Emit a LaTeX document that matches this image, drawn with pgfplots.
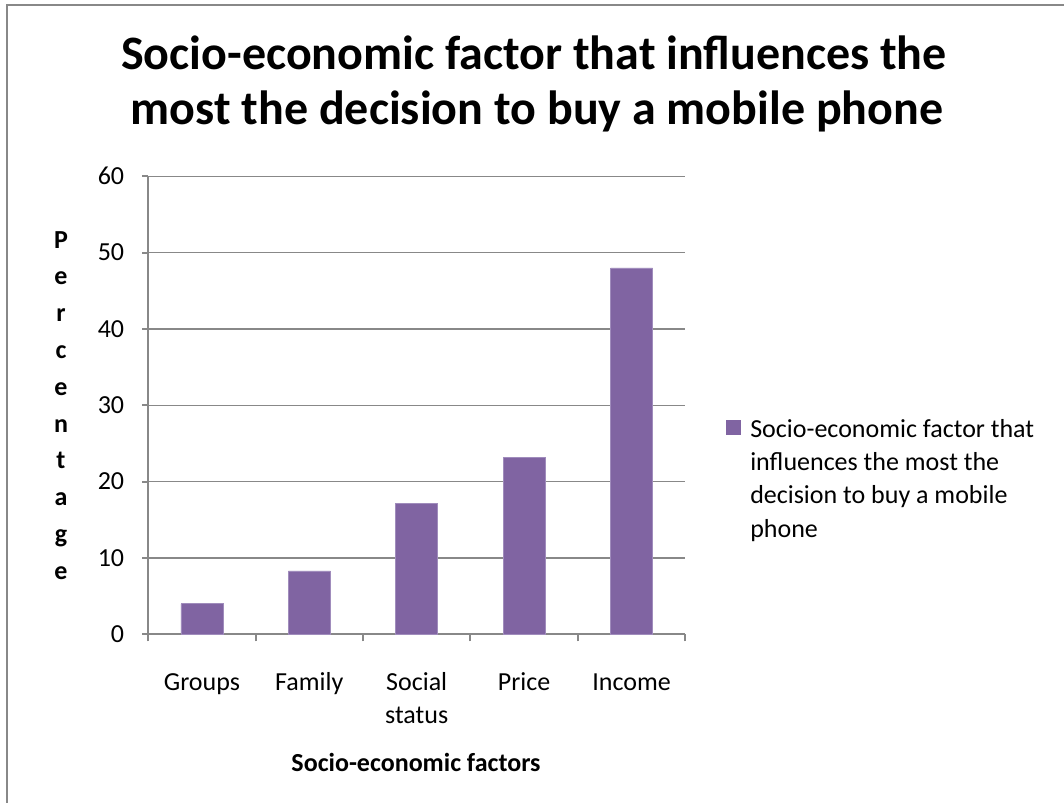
\documentclass[border=0pt]{standalone}
\usepackage{fontspec}
\setmainfont{Carlito}
\usepackage{pgfplots}
\pgfplotsset{compat=1.18}
\definecolor{barpurple}{HTML}{8064A2}
\definecolor{baredge}{HTML}{A08CBC}
\definecolor{axisgray}{HTML}{888888}
\begin{document}
\begin{tikzpicture}[x=0.75pt,y=0.75pt]
\useasboundingbox (0,0) rectangle (1064,803);
\draw[color=axisgray, line width=1.5pt] (7,0) -- (7,798) -- (1064,798);
\begin{axis}[
  at={(138,221)}, anchor=south west, scale only axis,
  width=402.75pt, height=343.5pt,
  xmin=-0.5, xmax=4.5, ymin=0, ymax=60, ytick={0,10,...,60},
  xtick={0,1,2,3,4},
  xticklabels={\strut Groups,\strut Family,{\strut Social\\status},\strut Price,\strut Income},
  minor xtick={-0.5,0.5,1.5,2.5,3.5,4.5},
  axis lines=left,
  axis line style={-, draw=axisgray, line width=1.4pt},
  ymajorgrids, grid style={draw=axisgray, line width=1.2pt},
  tick align=outside, major tick length=4.5pt, minor tick length=5.25pt,
  tick style={draw=axisgray, line width=1.4pt},
  major x tick style={draw=none},
  /pgf/number format/assume math mode=true,
  tick label style={font=\fontsize{19.5}{24.75}\selectfont, text=black},
  yticklabel style={xshift=-10pt},
  xticklabel style={align=center, anchor=north, yshift=-17pt},
  clip=false,
]
\addplot[ybar, bar width=31.5pt, fill=barpurple, draw=baredge, line width=0.6pt]
  coordinates {(0,4) (1,8.3) (2,17.2) (3,23.2) (4,48)};
\end{axis}
% title
\node[anchor=base, font=\fontsize{36}{41}\selectfont\bfseries] at (534,733) {Socio-economic factor that influences the};
\node[anchor=base, font=\fontsize{36}{41}\selectfont\bfseries] at (537,678) {most the decision to buy a mobile phone};
% y label
\node[anchor=north, align=center, font=\fontsize{19.5}{27.6}\selectfont\bfseries, inner sep=0pt] at (61,572) {P\\e\\r\\c\\e\\n\\t\\a\\g\\e};
% x label
\node[anchor=base, font=\fontsize{19.5}{24}\selectfont\bfseries] at (416,31) {Socio-economic factors};
% legend
\fill[barpurple] (726,368) rectangle (741,383);
\node[anchor=north west, align=left, inner sep=0pt, font=\fontsize{19.5}{25}\selectfont] at (750,384) {Socio-economic factor that\\influences the most the\\decision to buy a mobile\\phone};
\end{tikzpicture}
\end{document}
